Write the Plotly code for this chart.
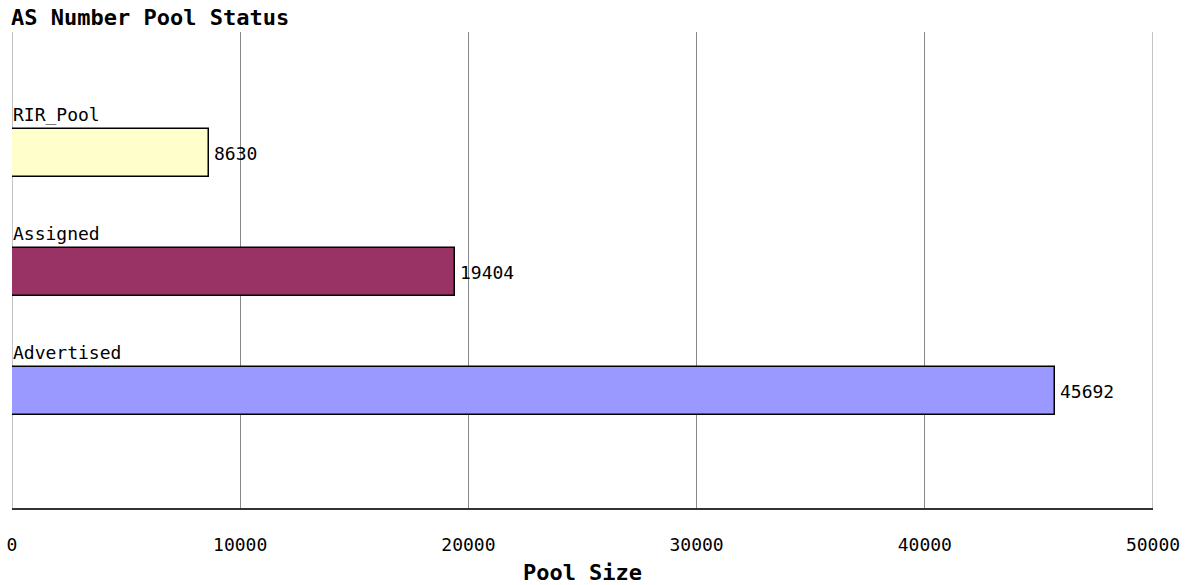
import plotly.graph_objects as go

categories = ["RIR_Pool", "Assigned", "Advertised"]
values = [8630, 19404, 45692]
colors = ["#FFFFCC", "#993366", "#9999FF"]
x_ticks = [0, 10000, 20000, 30000, 40000, 50000]

FONT = "DejaVu Sans Mono"
SZ = 18

fig = go.Figure()
fig.add_trace(go.Bar(
    y=categories, x=values, orientation="h",
    marker=dict(color=colors, line=dict(color="#000000", width=1.5)),
    width=0.4, hoverinfo="x+y",
))

annotations = []
for c, v in zip(categories, values):
    annotations.append(dict(x=0, y=c, xref="x", yref="y", text=c, showarrow=False,
                            xanchor="left", yanchor="bottom", yshift=26, xshift=-1,
                            font=dict(family=FONT, size=SZ, color="#000")))
    annotations.append(dict(x=v, y=c, xref="x", yref="y", text=str(v), showarrow=False,
                            xanchor="left", yanchor="middle", xshift=3,
                            font=dict(family=FONT, size=SZ, color="#000")))
annotations.append(dict(x=0, y=1, xref="paper", yref="paper", text="<b>AS Number Pool Status</b>",
                        showarrow=False, xanchor="left", yanchor="bottom", yshift=0, xshift=-3,
                        font=dict(family=FONT, size=22, color="#000")))

fig.update_layout(
    width=1198, height=585,
    margin=dict(l=12, r=45, t=32, b=77, autoexpand=False),
    paper_bgcolor="white", plot_bgcolor="white",
    showlegend=False,
    annotations=annotations,
    bargap=0,
    xaxis=dict(range=[0, 50000], tickvals=x_ticks, ticktext=[str(t) for t in x_ticks],
               showgrid=True, gridcolor="#888888", gridwidth=1, automargin=False,
               zeroline=False, showline=True, linecolor="#333333", linewidth=2,
               ticks="", ticklabelstandoff=19,
               tickfont=dict(family=FONT, size=SZ, color="#000"),
               title=dict(text="<b>Pool Size</b>", font=dict(family=FONT, size=22, color="#000"), standoff=13)),
    yaxis=dict(categoryorder="array", categoryarray=categories, range=[2.983, -1.017], automargin=False,
               showticklabels=False, showgrid=False, zeroline=False, showline=False, ticks=""),
)
for xv in (x_ticks[0], x_ticks[-1]):
    fig.add_shape(type="line", xref="x", yref="paper", x0=xv, x1=xv, y0=0, y1=1,
                  line=dict(color="#888888", width=1), layer="below")

fig.write_html("out.html", config={"displayModeBar": False},
               post_script="document.body.style.margin='0';document.body.style.overflow='hidden';")
